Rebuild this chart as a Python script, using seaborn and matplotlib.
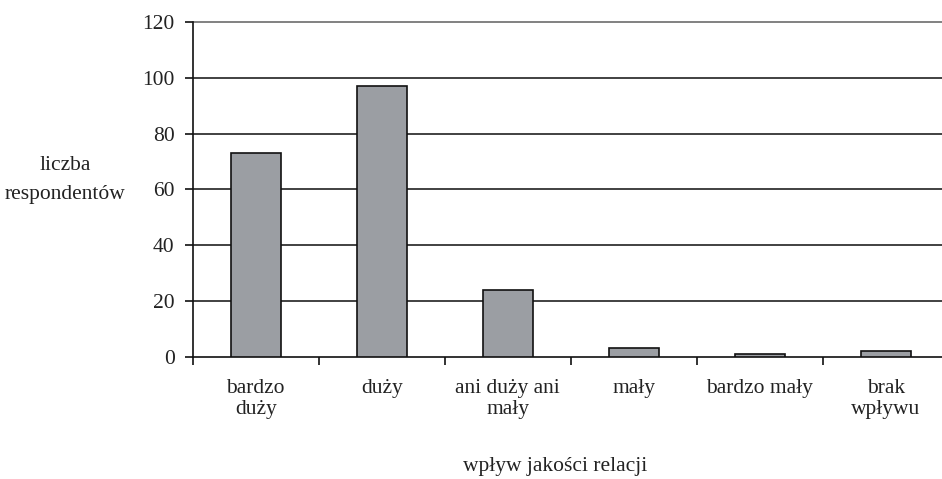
import matplotlib
matplotlib.use("Agg")
import matplotlib.pyplot as plt
import seaborn as sns
import pandas as pd

categories = ["bardzo\nduży", "duży", "ani duży ani\nmały", "mały", "bardzo mały", "brak\nwpływu"]
counts = [73, 97, 24, 3, 1, 2]
y_ticks = [0, 20, 40, 60, 80, 100, 120]

sns.set_style("white")
plt.rcParams["font.family"] = ["Liberation Serif", "DejaVu Serif"]
plt.rcParams["text.color"] = "#222222"

df = pd.DataFrame({"kategoria": categories, "liczba": counts})

fig = plt.figure(figsize=(9.42, 4.79), dpi=100)
ax = fig.add_axes([0.2046, 0.2557, 0.8026, 0.6983])

sns.barplot(data=df, x="kategoria", y="liczba", color="#9b9ea3", width=0.4,
            edgecolor="#111111", linewidth=1.2, saturation=1, ax=ax, zorder=3)

ax.set_xlim(-0.5, 5.5)
ax.set_ylim(0, 120)
ax.set_yticks(y_ticks)
for v in y_ticks[1:]:
    ax.axhline(v, color="#777777" if v == 120 else "#333333", linewidth=1.3,
               zorder=1, clip_on=False)

for s in ["top", "right"]:
    ax.spines[s].set_visible(False)
ax.spines["left"].set_color("#111111")
ax.spines["bottom"].set_color("#111111")
ax.spines["left"].set_linewidth(1.2)
ax.spines["bottom"].set_linewidth(1.2)

ax.tick_params(axis="y", left=True, length=6, width=1.2, color="#111111",
               labelsize=15.5, labelcolor="#222222", pad=7)
ax.tick_params(axis="x", bottom=False, labelsize=15.5, labelcolor="#222222", pad=13)
ax.set_xticks([i - 0.5 for i in range(7)], minor=True)
ax.tick_params(axis="x", which="minor", bottom=True, length=6, width=1.2, color="#111111")
for lbl in ax.get_xticklabels():
    lbl.set_linespacing(1.1)

ax.set_xlabel("")
ax.set_ylabel("")
fig.text(65 / 942, 1 - 180 / 479, "liczba\nrespondentów", ha="center", va="center",
         fontsize=15.5, linespacing=1.75)
fig.text(555 / 942, 1 - 466 / 479, "wpływ jakości relacji", ha="center", va="center",
         fontsize=15.5)

fig.savefig("out.png", dpi=100)
